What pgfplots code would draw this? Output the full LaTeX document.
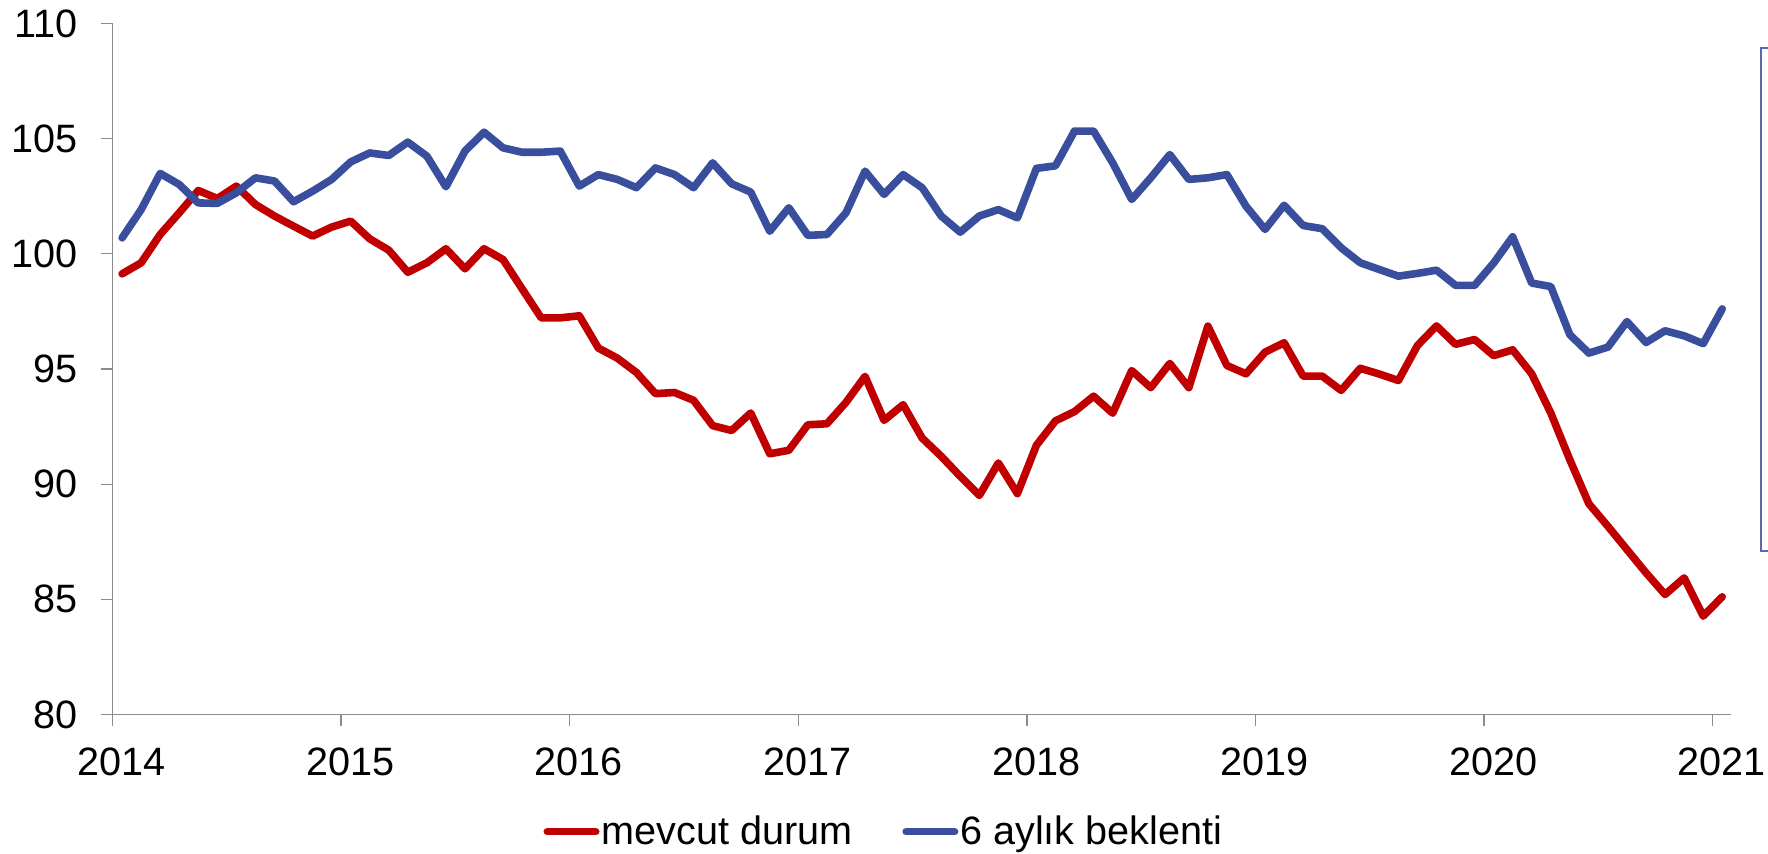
\documentclass[border=0pt]{standalone}
\usepackage{pgfplots}
\usepackage{pgfplotstable}
\pgfplotsset{compat=1.18}
\usepackage{fontspec}
\setmainfont{Liberation Sans}
\definecolor{cred}{RGB}{192,0,0}
\definecolor{cblue}{RGB}{57,78,157}
\definecolor{axgray}{RGB}{140,140,140}

\pgfplotstableread{
t red blue
0 99.13 100.69
1 99.61 101.92
2 100.84 103.49
3 101.78 103.01
4 102.75 102.21
5 102.40 102.19
6 102.94 102.65
7 102.14 103.30
8 101.64 103.16
9 101.20 102.26
10 100.77 102.72
11 101.16 103.23
12 101.42 103.99
13 100.65 104.38
14 100.16 104.27
15 99.20 104.85
16 99.61 104.24
17 100.22 102.91
18 99.35 104.46
19 100.22 105.28
20 99.75 104.60
21 98.48 104.41
22 97.22 104.41
23 97.22 104.46
24 97.31 102.94
25 95.91 103.44
26 95.47 103.23
27 94.85 102.87
28 93.93 103.73
29 93.98 103.44
30 93.64 102.87
31 92.54 103.95
32 92.33 103.04
33 93.09 102.68
34 91.32 100.98
35 91.47 102.00
36 92.58 100.80
37 92.62 100.84
38 93.55 101.78
39 94.68 103.59
40 92.77 102.58
41 93.45 103.44
42 92.00 102.87
43 91.21 101.64
44 90.34 100.94
45 89.51 101.64
46 90.92 101.92
47 89.59 101.56
48 91.69 103.71
49 92.75 103.82
50 93.15 105.33
51 93.82 105.33
52 93.08 103.95
53 94.93 102.36
54 94.19 103.30
55 95.24 104.31
56 94.19 103.23
57 96.86 103.30
58 95.15 103.44
59 94.79 102.07
60 95.73 101.06
61 96.14 102.11
62 94.69 101.23
63 94.69 101.09
64 94.07 100.26
65 95.03 99.61
66 94.78 99.32
67 94.50 99.03
68 96.02 99.15
69 96.87 99.29
70 96.07 98.63
71 96.28 98.63
72 95.58 99.60
73 95.83 100.74
74 94.79 98.73
75 93.09 98.58
76 91.06 96.49
77 89.15 95.69
78 88.17 95.95
79 87.16 97.06
80 86.15 96.15
81 85.21 96.66
82 85.93 96.44
83 84.27 96.10
84 85.11 97.61
}\datatable

\begin{document}
\begin{tikzpicture}
\useasboundingbox (-56.3pt,-69.75pt) rectangle (827.7pt,357.25pt);
\begin{axis}[
  scale only axis,
  width=809.2pt, height=345.5pt,
  xmin=2014, xmax=2021.08,
  ymin=80, ymax=110,
  axis x line=bottom, axis y line=left,
  axis line style={draw=axgray, line width=0.65pt, -},
  xtick={2014,2015,...,2021},
  ytick={80,85,...,110},
  xticklabel={\pgfmathprintnumber[1000 sep={}]{\tick}},
  tick align=outside,
  major tick length=6pt,
  tick style={draw=axgray, line width=0.65pt},
  /pgf/number format/assume math mode=true,
  /pgf/number format/1000 sep={},
  tick label style={font=\fontsize{19.8}{23.5}\selectfont, inner sep=0pt},
  yticklabel style={anchor=east, xshift=-11.3pt},
  xticklabel style={anchor=north, yshift=-10.7pt, xshift=4.6pt},
  legend style={at={(0.4766,-0.1696)}, anchor=center, draw=none, fill=none,
    inner sep=0pt, font=\fontsize{19.8}{23.5}\selectfont,
    nodes={inner xsep=1pt, inner ysep=0pt},
    /tikz/every even column/.append style={column sep=24pt}},
  legend columns=2,
  legend image code/.code={\draw[#1, line cap=round] (1.9pt,0pt) -- (26.1pt,0pt);},
]
\addplot[cred, line width=3.8pt, line join=round, line cap=round]
  table[x expr={2014+(\thisrow{t}+0.5)/12}, y=red] {\datatable};
\addlegendentry{mevcut durum}
\addplot[cblue, line width=3.8pt, line join=round, line cap=round]
  table[x expr={2014+(\thisrow{t}+0.5)/12}, y=blue] {\datatable};
\addlegendentry{6 aylık beklenti}
\end{axis}
\draw[cblue!85, line width=0.75pt] (824.2pt,81.75pt) rectangle (900pt,333.25pt);
\end{tikzpicture}
\end{document}
